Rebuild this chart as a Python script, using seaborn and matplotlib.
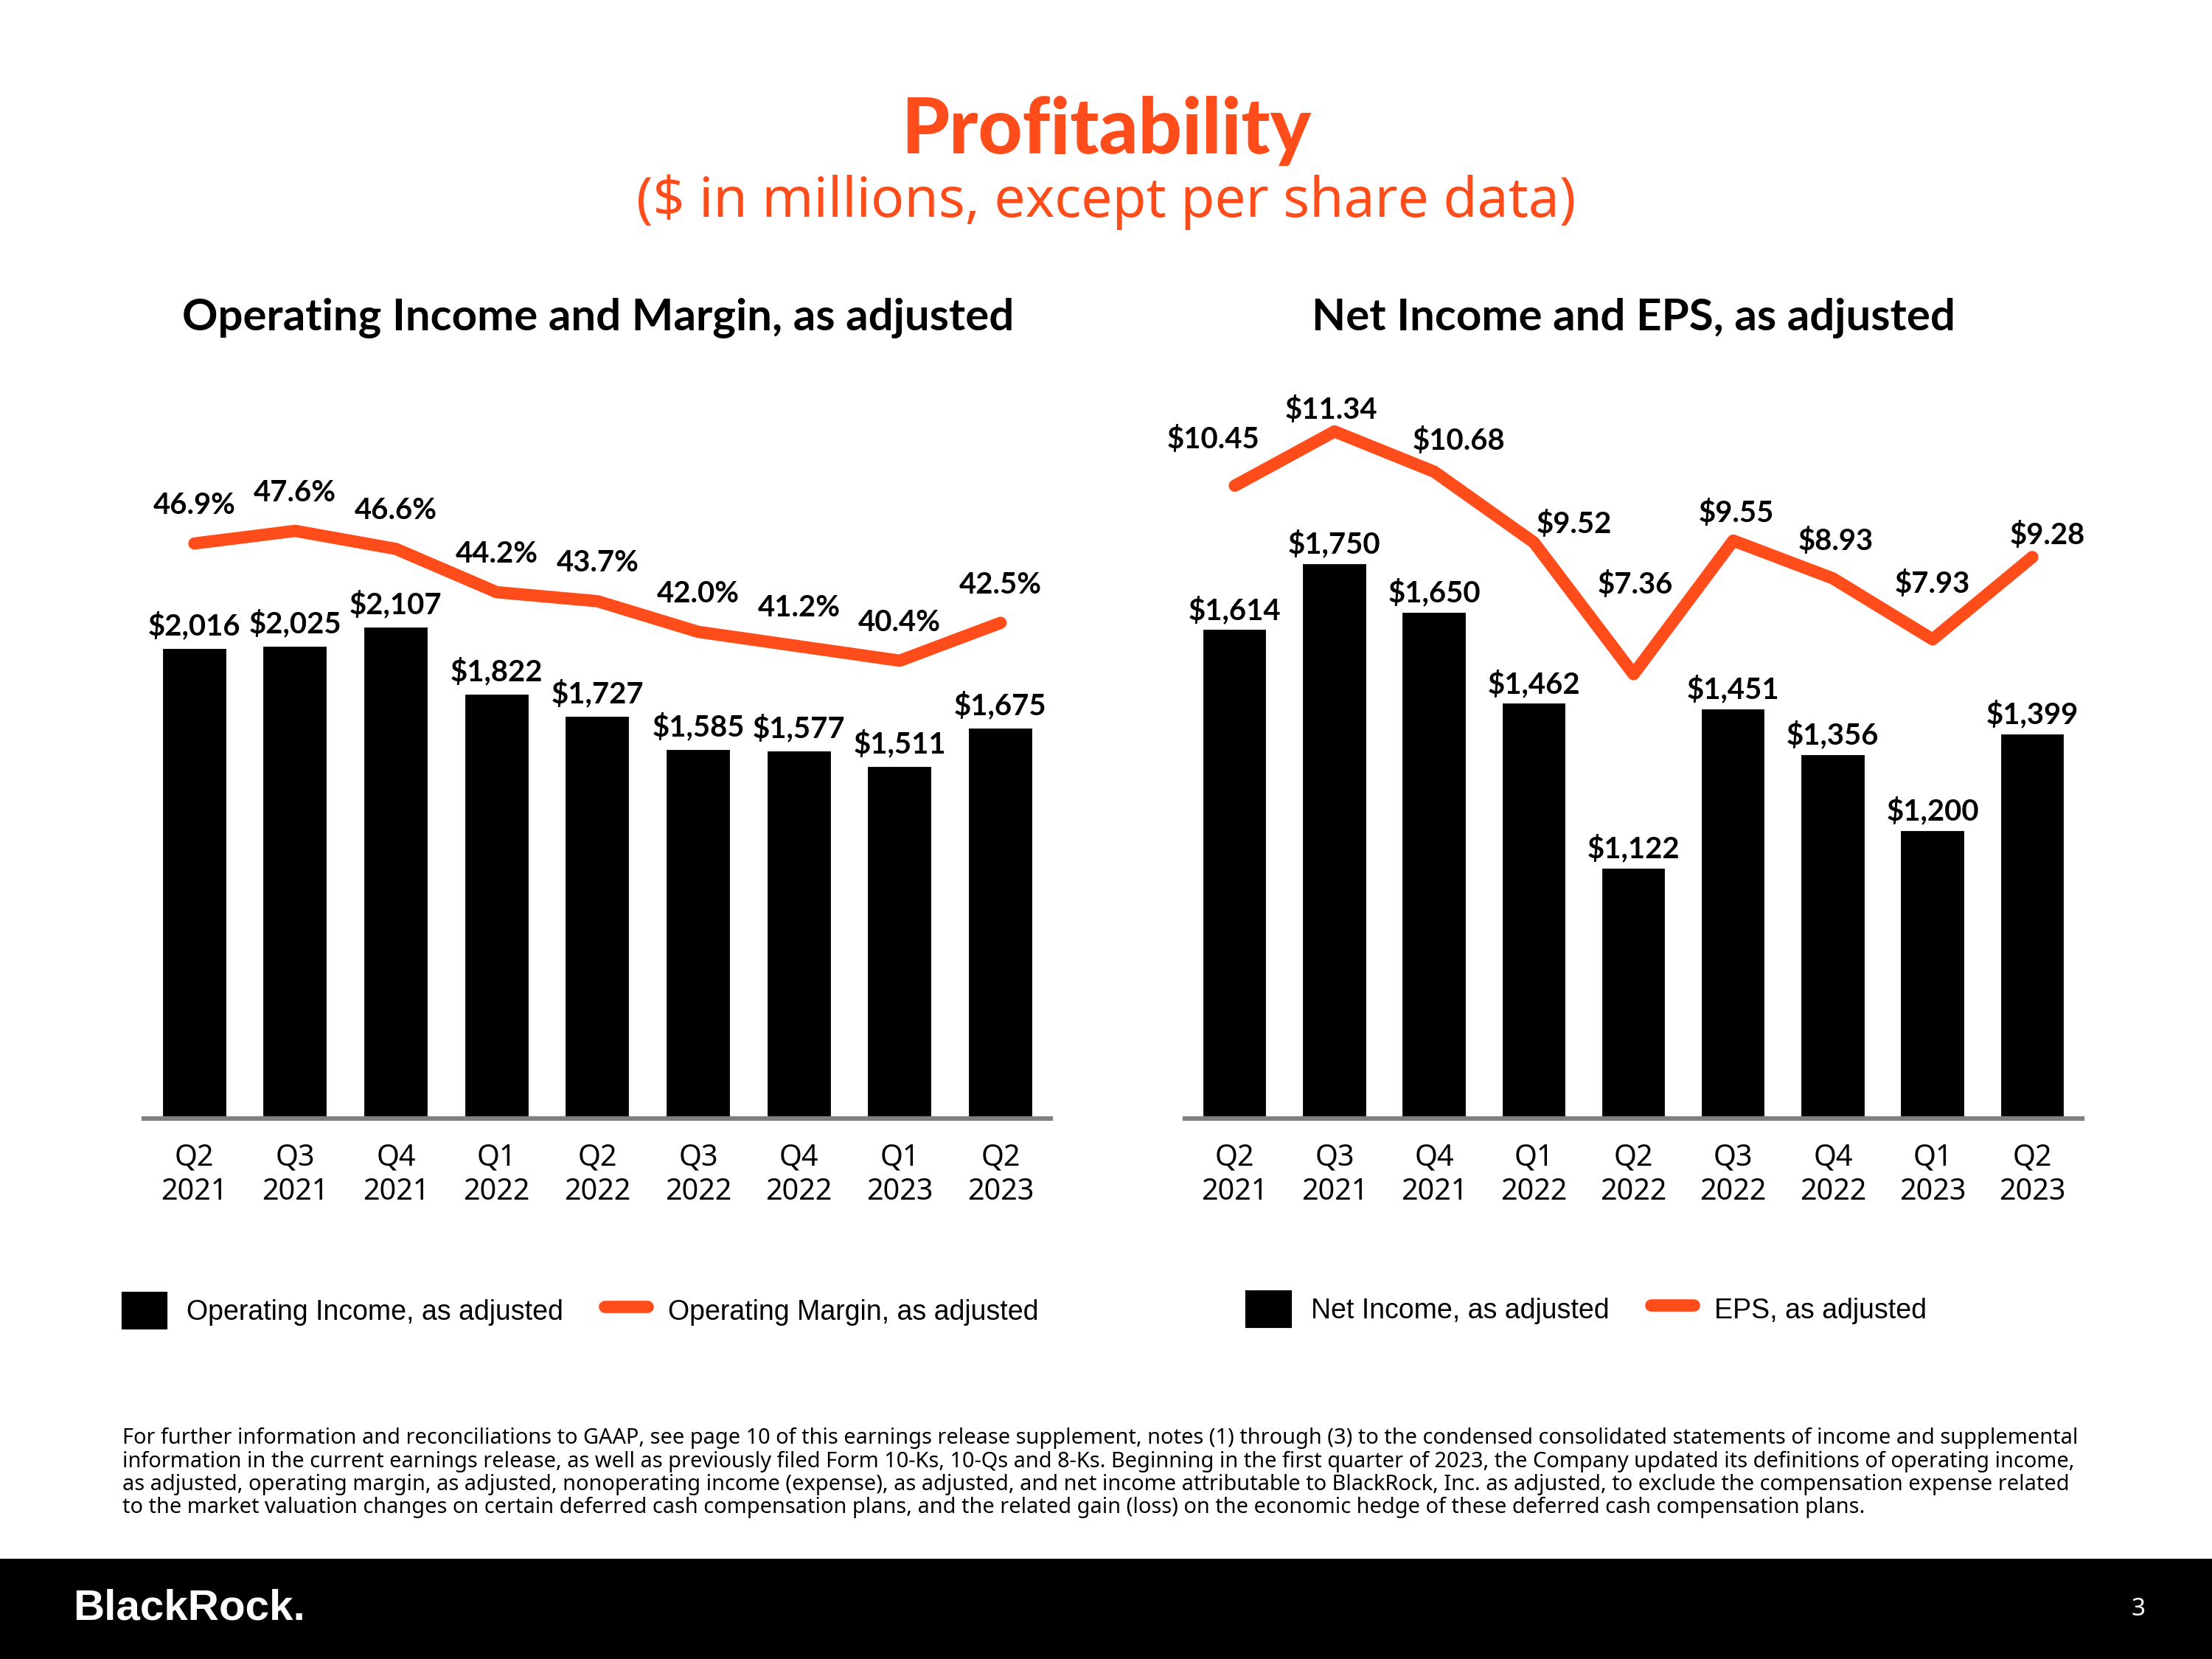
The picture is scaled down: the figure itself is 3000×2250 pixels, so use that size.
# Profitability slide: operating income / margin and net income / EPS
import numpy as np
import pandas as pd
import matplotlib.pyplot as plt
import seaborn as sns
from matplotlib.patches import Patch, Rectangle
from matplotlib.lines import Line2D

# data
quarters = ["Q2\n2021", "Q3\n2021", "Q4\n2021", "Q1\n2022", "Q2\n2022",
            "Q3\n2022", "Q4\n2022", "Q1\n2023", "Q2\n2023"]
operating_income = [2016, 2025, 2107, 1822, 1727, 1585, 1577, 1511, 1675]
operating_margin = [46.9, 47.6, 46.6, 44.2, 43.7, 42.0, 41.2, 40.4, 42.5]
net_income = [1614, 1750, 1650, 1462, 1122, 1451, 1356, 1200, 1399]
eps = [10.45, 11.34, 10.68, 9.52, 7.36, 9.55, 8.93, 7.93, 9.28]

# label offsets for the EPS line (points)
eps_offsets = [(-7, 15), (-1, 7), (8, 10), (13, 6), (0.5, 29),
               (1, 9), (1, 12), (0, 18), (5, 7)]

ORANGE = "#FF4C1B"
GREY = "#808080"
LABEL_FONT = ["Noto Sans", "DejaVu Sans"]
BOLD_FONT = ["Lato", "DejaVu Sans"]
LEGEND_FONT = ["Liberation Sans", "DejaVu Sans"]

sns.set_theme(style="white")
plt.rcParams["font.family"] = LABEL_FONT
plt.rcParams["text.color"] = "black"
plt.rcParams["xtick.color"] = "black"

df = pd.DataFrame({"quarter": quarters, "pos": np.arange(len(quarters)),
                   "op_income": operating_income, "op_margin": operating_margin,
                   "net_income": net_income, "eps": eps})

fig = plt.figure(figsize=(10, 7.5), dpi=300)
fig.patch.set_facecolor("white")

ax1 = fig.add_axes([0.0651, 0.3257, 0.410, 0.4532])
ax3 = fig.add_axes([0.5357, 0.3257, 0.4056, 0.4532])


def style_axis(ax):
    for s in ["top", "right", "left"]:
        ax.spines[s].set_visible(False)
    ax.spines["bottom"].set_color(GREY)
    ax.spines["bottom"].set_linewidth(1.5)
    ax.set_yticks([])
    ax.set_xlabel("")
    ax.set_ylabel("")
    ax.tick_params(axis="x", length=0, pad=8, labelsize=9.5, labelcolor="black")
    ax.set_xlim(-0.5, 8.5)


def value_label(ax, text, xy, offset):
    ax.annotate(text, xy, xytext=offset, textcoords="offset points",
                ha="center", va="center", fontsize=9.6, fontweight="bold",
                family=BOLD_FONT, color="black")


# --- left panel ---
sns.barplot(data=df, x="quarter", y="op_income", color="black", width=0.66,
            saturation=1, ax=ax1)
ax1.set_ylim(0, 3217)
style_axis(ax1)
for i, v in enumerate(operating_income):
    value_label(ax1, f"${v:,}", (i, v), (0, 7))

ax2 = ax1.twinx()
sns.lineplot(data=df, x="pos", y="op_margin", color=ORANGE, linewidth=4,
             ax=ax2, solid_capstyle="round")
ax2.set_ylim(15.0, 56.7)
ax2.axis("off")
for i, v in enumerate(operating_margin):
    value_label(ax2, f"{v:.1f}%", (i, v), (0, 12.4))

# --- right panel ---
sns.barplot(data=df, x="quarter", y="net_income", color="black", width=0.66,
            saturation=1, ax=ax3)
ax3.set_ylim(603, 2154)
style_axis(ax3)
for i, v in enumerate(net_income):
    value_label(ax3, f"${v:,}", (i, v), (0, 6))

ax4 = ax3.twinx()
sns.lineplot(data=df, x="pos", y="eps", color=ORANGE, linewidth=4,
             ax=ax4, solid_capstyle="round")
ax4.set_ylim(0.07, 12.4)
ax4.axis("off")
for i, v in enumerate(eps):
    value_label(ax4, f"${v:.2f}", (i, v), eps_offsets[i])

# --- titles ---
fig.text(0.5, 0.921, "Profitability", ha="center", va="center", color=ORANGE,
         fontsize=25, fontweight="black", family=BOLD_FONT)
fig.text(0.5, 0.878, "($ in millions, except per share data)", ha="center", va="center",
         color=ORANGE, fontsize=18)
fig.text(0.2704, 0.808, "Operating Income and Margin, as adjusted", ha="center",
         va="center", fontsize=14.4, fontweight="bold", family=BOLD_FONT)
fig.text(0.7385, 0.808, "Net Income and EPS, as adjusted", ha="center",
         va="center", fontsize=14.4, fontweight="bold", family=BOLD_FONT)

# --- legends ---
def add_legend(ax, labels, x, y):
    handles = [Patch(facecolor="black", edgecolor="black"),
               Line2D([0], [0], color=ORANGE, linewidth=4, solid_capstyle="round")]
    leg = ax.legend(handles, labels, loc="center left", bbox_to_anchor=(x, y),
                    bbox_transform=fig.transFigure, ncol=2, frameon=False,
                    handlelength=1.55, handleheight=1.55, handletextpad=0.75,
                    columnspacing=1.5, borderpad=0, borderaxespad=0,
                    prop={"family": LEGEND_FONT, "size": 9})
    for t in leg.get_texts():
        t.set_color("black")


add_legend(ax1, ["Operating Income, as adjusted", "Operating Margin, as adjusted"],
           0.0555, 0.210)
add_legend(ax3, ["Net Income, as adjusted", "EPS, as adjusted"], 0.5638, 0.211)

# --- footnote ---
footnote = ("For further information and reconciliations to GAAP, see page 10 of this earnings release supplement, "
            "notes (1) through (3) to the condensed consolidated statements of income and supplemental\n"
            "information in the current earnings release, as well as previously filed Form 10-Ks, 10-Qs and 8-Ks. "
            "Beginning in the first quarter of 2023, the Company updated its definitions of operating income,\n"
            "as adjusted, operating margin, as adjusted, nonoperating income (expense), as adjusted, and net income "
            "attributable to BlackRock, Inc. as adjusted, to exclude the compensation expense related\n"
            "to the market valuation changes on certain deferred cash compensation plans, and the related gain (loss) "
            "on the economic hedge of these deferred cash compensation plans.")
fig.text(0.0555, 0.1395, footnote, ha="left", va="top", fontsize=6.95, linespacing=1.1)

# --- black footer bar ---
fig.patches.append(Rectangle((0, 0), 1, 0.0604, transform=fig.transFigure,
                             facecolor="black", edgecolor="none", zorder=0))
fig.text(0.033, 0.0306, "BlackRock.", ha="left", va="center", color="white",
         fontsize=14, fontweight="bold", family=LEGEND_FONT)
fig.text(0.9636, 0.0298, "3", ha="left", va="center", color="white", fontsize=8)

fig.savefig("out.png", dpi=300)
